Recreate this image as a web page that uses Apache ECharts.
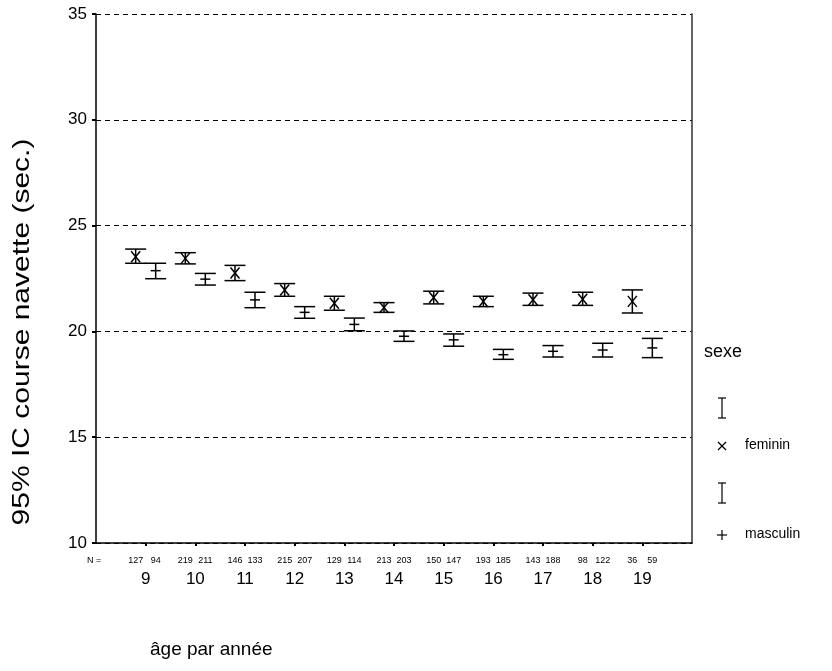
<!DOCTYPE html>
<html>
<head>
<meta charset="utf-8">
<script src="https://cdn.jsdelivr.net/npm/echarts@6/dist/echarts.min.js"></script>
<style>html,body{margin:0;padding:0;background:#fff;}#c{width:832px;height:671px;}</style>
</head>
<body>
<div id="c"></div>
<script>
const ages = [9, 10, 11, 12, 13, 14, 15, 16, 17, 18, 19];
const femMean = [23.53, 23.45, 22.76, 21.96, 21.33, 21.13, 21.60, 21.41, 21.50, 21.52, 21.42];
const femLow  = [23.22, 23.19, 22.40, 21.66, 21.00, 20.90, 21.30, 21.17, 21.23, 21.23, 20.87];
const femHigh = [23.89, 23.72, 23.12, 22.26, 21.66, 21.36, 21.90, 21.66, 21.81, 21.85, 21.96];
const masMean = [22.87, 22.47, 21.49, 20.90, 20.33, 19.77, 19.60, 18.90, 19.06, 19.12, 19.22];
const masLow  = [22.49, 22.19, 21.12, 20.62, 20.03, 19.53, 19.30, 18.68, 18.79, 18.79, 18.76];
const masHigh = [23.22, 22.74, 21.85, 21.17, 20.63, 20.02, 19.88, 19.15, 19.33, 19.44, 19.67];
const femN = [127, 219, 146, 215, 129, 213, 150, 193, 143, 98, 36];
const masN = [94, 211, 133, 207, 114, 203, 147, 185, 188, 122, 59];
const yTicks = [10, 15, 20, 25, 30, 35];

const FONT = '"Liberation Sans", Arial, sans-serif';

function buildData(mean, low, high, n) {
  return ages.map((a, i) => [a, low[i], mean[i], high[i], n[i]]);
}

function makeRender(offset, marker) {
  return function (params, api) {
    const x = api.value(0);
    const pLow = api.coord([x, api.value(1)]);
    const pMid = api.coord([x, api.value(2)]);
    const pHigh = api.coord([x, api.value(3)]);
    const pBase = api.coord([x, 10]);
    const cx = pMid[0] + offset;
    const capW = 10.5;
    const st = { stroke: '#000', lineWidth: 1.5 };
    const children = [
      { type: 'line', shape: { x1: cx, y1: pHigh[1], x2: cx, y2: pLow[1] }, style: st },
      { type: 'line', shape: { x1: cx - capW, y1: pHigh[1], x2: cx + capW, y2: pHigh[1] }, style: st },
      { type: 'line', shape: { x1: cx - capW, y1: pLow[1], x2: cx + capW, y2: pLow[1] }, style: st }
    ];
    if (marker === 'x') {
      children.push({ type: 'line', shape: { x1: cx - 4.5, y1: pMid[1] - 5.5, x2: cx + 4.5, y2: pMid[1] + 5.5 }, style: st });
      children.push({ type: 'line', shape: { x1: cx - 4.5, y1: pMid[1] + 5.5, x2: cx + 4.5, y2: pMid[1] - 5.5 }, style: st });
    } else {
      children.push({ type: 'line', shape: { x1: cx - 5, y1: pMid[1], x2: cx + 5, y2: pMid[1] }, style: st });
    }
    children.push({
      type: 'text',
      style: {
        text: String(api.value(4)), x: cx, y: pBase[1] + 18,
        fill: '#000', font: '9px ' + FONT, textAlign: 'center', textVerticalAlign: 'middle'
      }
    });
    return { type: 'group', children: children };
  };
}

const chart = echarts.init(document.getElementById('c'), null, { renderer: 'canvas' });

const legendX = 722;
const lst = { stroke: '#000', lineWidth: 1.2 };
function ibeam(y) {
  return [
    { type: 'line', shape: { x1: legendX, y1: y - 10, x2: legendX, y2: y + 10 }, style: lst },
    { type: 'line', shape: { x1: legendX - 4, y1: y - 10, x2: legendX + 4, y2: y - 10 }, style: lst },
    { type: 'line', shape: { x1: legendX - 4, y1: y + 10, x2: legendX + 4, y2: y + 10 }, style: lst }
  ];
}

const graphics = [
  { type: 'text', x: 22, y: 332, rotation: Math.PI / 2, scaleX: 1.25, scaleY: 1,
    style: { text: '95% IC course navette (sec.)', font: '24px ' + FONT, fill: '#000',
      textAlign: 'center', textVerticalAlign: 'middle' } },
  { type: 'text', left: 704, top: 343, style: { text: 'sexe', font: '18px ' + FONT, fill: '#000' } },
  ...ibeam(408),
  { type: 'line', shape: { x1: legendX - 4, y1: 442, x2: legendX + 4, y2: 450 }, style: lst },
  { type: 'line', shape: { x1: legendX - 4, y1: 450, x2: legendX + 4, y2: 442 }, style: lst },
  { type: 'text', left: 745, top: 438, style: { text: 'feminin', font: '14px ' + FONT, fill: '#000' } },
  ...ibeam(493),
  { type: 'line', shape: { x1: legendX - 5, y1: 535, x2: legendX + 5, y2: 535 }, style: lst },
  { type: 'line', shape: { x1: legendX, y1: 530, x2: legendX, y2: 540 }, style: lst },
  { type: 'text', left: 745, top: 527, style: { text: 'masculin', font: '14px ' + FONT, fill: '#000' } },
  { type: 'text', left: 87, top: 556, style: { text: 'N =', font: '9px ' + FONT, fill: '#000' } },
  { type: 'text', left: 150, top: 640, style: { text: 'âge par année', font: '19px ' + FONT, fill: '#000' } }
];

chart.setOption({
  animation: false,
  backgroundColor: '#fff',
  grid: { left: 96, right: 140, top: 14, bottom: 128, containLabel: false },
  xAxis: {
    type: 'value', min: 8, max: 20, interval: 1,
    axisLine: { show: true, lineStyle: { color: '#000', width: 1.5 } },
    axisTick: { show: true, length: 3, lineStyle: { color: '#000', width: 2 },
      customValues: ages },
    axisLabel: {
      color: '#000', fontSize: 17, fontFamily: FONT, margin: 28,
      customValues: ages,
      formatter: function (v) { return ages.indexOf(v) >= 0 ? String(v) : ''; }
    },
    splitLine: { show: false }
  },
  yAxis: [{
    type: 'value', min: 10, max: 35, interval: 5,
    axisLine: { show: true, lineStyle: { color: '#000', width: 1.5 } },
    axisTick: { show: true, length: 4, lineStyle: { color: '#000', width: 2 } },
    axisLabel: { color: '#000', fontSize: 17, fontFamily: FONT, margin: 9 },
    splitLine: { show: true, lineStyle: { color: '#000', type: [5, 4], width: 1 } }
  }, {
    type: 'value', min: 10, max: 35, interval: 5, position: 'right',
    axisLine: { show: true, lineStyle: { color: '#333', width: 1.5 } },
    axisTick: { show: false }, axisLabel: { show: false }, splitLine: { show: false }
  }],
  series: [{
    name: 'feminin', type: 'custom', renderItem: makeRender(-10, 'x'),
    data: buildData(femMean, femLow, femHigh, femN), clip: false
  }, {
    name: 'masculin', type: 'custom', renderItem: makeRender(10, '+'),
    data: buildData(masMean, masLow, masHigh, masN), clip: false
  }],
  graphic: graphics
});
</script>
</body>
</html>
